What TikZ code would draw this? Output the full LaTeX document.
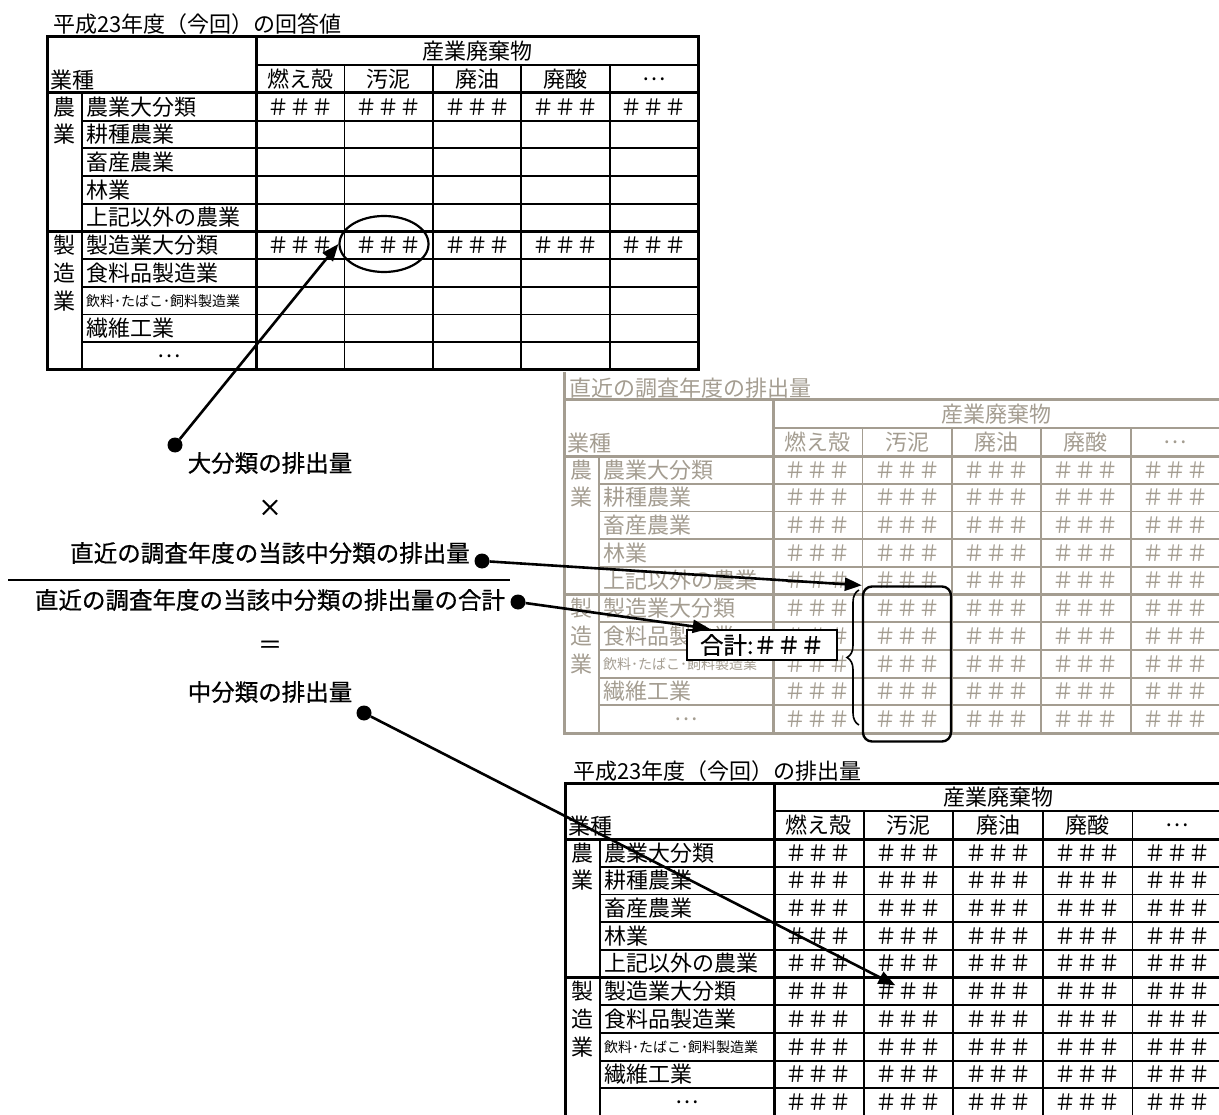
\documentclass[tikz,border=0pt]{standalone}
\usepackage{fontspec}
\setmainfont{Noto Sans CJK JP}
\newfontfamily\gothic{Noto Sans CJK JP}[UprightFeatures={FakeBold=0.7}]
\usetikzlibrary{arrows.meta,decorations.pathreplacing,shapes.geometric}

\definecolor{oldgray}{RGB}{164,157,145}

\tikzset{
  thickrule/.style={line width=3pt},
  thinrule/.style={line width=1.8pt},
  celltext/.style={inner sep=0pt,font=\fontsize{22}{22}\selectfont},
  smallcell/.style={inner sep=0pt,font=\fontsize{14}{14}\selectfont},
  formula/.style={inner sep=0pt,font=\fontsize{23.5}{24}\gothic},
  dot/.style={circle,fill=black,inner sep=0pt,minimum size=15pt},
  pointer/.style={line width=2.6pt,-{Triangle[length=17pt,width=13pt]}},
}

% one waste table: name, x, y, colour, column width, rows that hold values
\newcommand\wastetable[6]{%
  \begin{scope}[shift={(#2,#3)},color=#4]
    \pgfmathsetmacro{\rowh}{27.7}
    \pgfmathsetmacro{\tright}{209+5*#5}
    \pgfmathsetmacro{\tbot}{56+10*\rowh}
    % grid
    \foreach \ri in {1,2,3,4,6,7,8,9}
      \draw[thinrule] (35,56+\ri*\rowh) -- (\tright,56+\ri*\rowh);
    \foreach \ci in {1,...,4}
      \draw[thinrule] (209+\ci*#5,28) -- (209+\ci*#5,\tbot);
    \draw[thinrule] (209,28) -- (\tright,28);
    \draw[thinrule] (35,56) -- (35,\tbot);
    \draw[thickrule] (0,56) -- (\tright,56);
    \draw[thickrule] (0,56+5*\rowh) -- (\tright,56+5*\rowh);
    \draw[thickrule] (209,0) -- (209,\tbot);
    \draw[thickrule] (0,0) rectangle (\tright,\tbot);
    % head
    \node[celltext,anchor=west] (#1-kind) at (3,43) {業種};
    \node[celltext] (#1-head) at (209+2.5*#5,14) {産業廃棄物};
    \foreach \h [count=\ci] in {燃え殻,汚泥,廃油,廃酸,…}
      \node[celltext] (#1-h\ci) at (209+\ci*#5-0.5*#5,42) {\h};
    % rows
    \foreach \ri/\ch in {1/農,2/業,6/製,7/造,8/業}
      \node[celltext] (#1-v\ri) at (17.5,56+\ri*\rowh-0.5*\rowh) {\ch};
    \foreach \ri/\lab in {1/農業大分類,2/耕種農業,3/畜産農業,4/林業,5/上記以外の農業,6/製造業大分類,7/食料品製造業,9/繊維工業}
      \node[celltext,anchor=west] (#1-l\ri) at (39,56+\ri*\rowh-0.5*\rowh) {\lab};
    \node[smallcell,anchor=west] (#1-l8) at (39,56+7.5*\rowh) {飲料･たばこ･飼料製造業};
    \node[celltext] (#1-l10) at (122,56+9.5*\rowh) {…};
    % values
    \foreach \ri in {#6}
      \foreach \ci in {1,...,5}
        \node[celltext] (#1-\ri-\ci) at (209+\ci*#5-0.5*#5,56+\ri*\rowh-0.5*\rowh) {＃＃＃};
  \end{scope}}

\begin{document}
\begin{tikzpicture}[x=1pt,y=-1pt]
  \useasboundingbox (0,0) rectangle (1219,1115);

  % answers of this survey
  \node[celltext,anchor=west] (t1-title) at (53,24) {平成23年度（今回）の回答値};
  \wastetable{t1}{47}{37}{black}{88.4}{1,6}
  \node[draw,ellipse,line width=2.2pt,minimum width=89pt,minimum height=56pt] (ring) at (384,244) {};

  % last survey
  \node[celltext,anchor=west,oldgray] (t2-title) at (569,388) {直近の調査年度の排出量};
  \draw[thickrule,oldgray] (564,372) -- (564,400);
  \wastetable{t2}{564}{400}{oldgray}{89.4}{1,...,10}
  \node[draw,line width=2.4pt,rounded corners=9pt,minimum width=88pt,minimum height=155pt] (col) at (907,664) {};
  \draw[line width=1.6pt,decorate,decoration={brace,amplitude=12pt}] (859,725) -- (859,590);
  \node[draw,line width=2.6pt,fill=white,inner sep=0pt,minimum width=150pt,minimum height=30pt,
        font=\fontsize{23.5}{24}\gothic] (sum) at (762,645) {合計:＃＃＃};
  \coordinate (sumin) at ([xshift=24pt]sum.north west);

  % this survey
  \node[celltext,anchor=west] (t3-title) at (573,771) {平成23年度（今回）の排出量};
  \wastetable{t3}{565}{783}{black}{89.6}{1,...,10}
  \coordinate (t3in) at ([xshift=-13pt,yshift=6pt]t3-6-2.center);

  % formula
  \node[formula] (big) at (270,463) {大分類の排出量};
  \node[formula] (times) at (270,508) {×};
  \node[formula] (recent) at (270,553) {直近の調査年度の当該中分類の排出量};
  \draw[line width=2pt] (8,580) -- (510,580);
  \node[formula] (total) at (270,600) {直近の調査年度の当該中分類の排出量の合計};
  \node[formula] (equals) at (270,647) {＝};
  \node[formula] (middle) at (270,692) {中分類の排出量};

  \node[dot] (d1) at (175,445) {};
  \node[dot] (d2) at (482,561) {};
  \node[dot] (d3) at (518,602) {};
  \node[dot] (d4) at (364,713) {};

  \draw[pointer] (d1) -- (ring.west);
  \draw[pointer] (d2) -- (col.north west);
  \draw[pointer] (d3) -- (sumin);
  \draw[pointer] (d4) -- (t3in);
\end{tikzpicture}
\end{document}
